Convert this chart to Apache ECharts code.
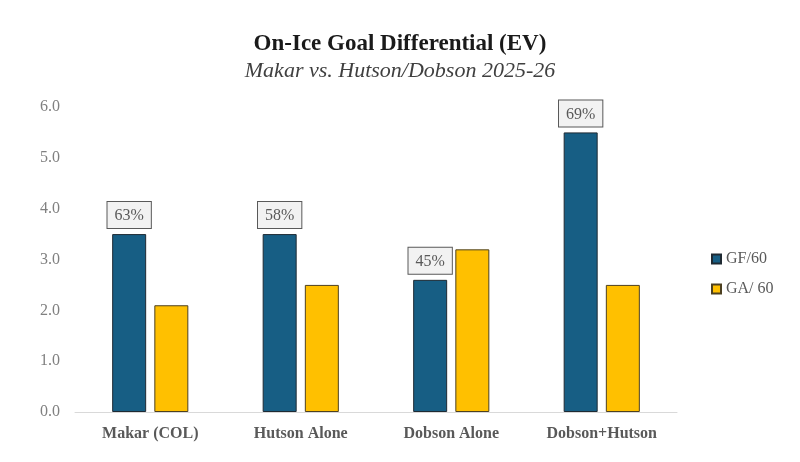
<!DOCTYPE html>
<html>
<head>
<meta charset="utf-8">
<script src="https://cdn.jsdelivr.net/npm/echarts@6/dist/echarts.min.js"></script>
<style>
  html, body { margin: 0; padding: 0; background: #fff; }
  #main { width: 800px; height: 462px; }
</style>
</head>
<body>
<div id="main"></div>
<script>
// 数据
var categories = ['Makar (COL)', 'Hutson Alone', 'Dobson Alone', 'Dobson+Hutson'];
var gf60 = [3.5, 3.5, 2.6, 5.5];
var ga60 = [2.1, 2.5, 3.2, 2.5];
var gfPct = ['63%', '58%', '45%', '69%'];
var yTicks = [0, 1, 2, 3, 4, 5, 6];

var serif = '"Liberation Serif", "DejaVu Serif", serif';

var myChart = echarts.init(document.getElementById('main'));

var option = {
    backgroundColor: '#ffffff',
    title: {
        text: 'On-Ice Goal Differential (EV)',
        subtext: 'Makar vs. Hutson/Dobson 2025-26',
        left: 'center',
        top: 28,
        itemGap: 4,
        textStyle: {
            fontFamily: serif,
            fontSize: 23,
            fontWeight: 'bold',
            color: '#1a1a1a'
        },
        subtextStyle: {
            fontFamily: serif,
            fontSize: 22,
            fontStyle: 'italic',
            color: '#404040'
        }
    },
    legend: {
        orient: 'vertical',
        left: 706,
        top: 246,
        itemWidth: 9,
        itemHeight: 9,
        itemGap: 14,
        icon: 'rect',
        textStyle: {
            fontFamily: serif,
            fontSize: 16,
            color: '#595959'
        },
        data: ['GF/60', 'GA/ 60']
    },
    grid: {
        left: 75,
        right: 123,
        top: 107,
        bottom: 50
    },
    xAxis: {
        type: 'category',
        data: categories,
        axisLine: { lineStyle: { color: '#d9d9d9', width: 1 } },
        axisTick: { show: false },
        axisLabel: {
            fontFamily: serif,
            fontSize: 16,
            fontWeight: 'bold',
            color: '#595959',
            margin: 14
        }
    },
    yAxis: {
        type: 'value',
        min: yTicks[0],
        max: yTicks[yTicks.length - 1],
        interval: 1,
        splitLine: { show: false },
        axisLine: { show: false },
        axisTick: { show: false },
        axisLabel: {
            fontFamily: serif,
            fontSize: 16,
            color: '#808080',
            margin: 15,
            formatter: function (v) { return v.toFixed(1); }
        }
    },
    series: [
        {
            name: 'GF/60',
            type: 'bar',
            data: gf60,
            barWidth: 34,
            barGap: '24%',
            itemStyle: {
                color: '#175e84',
                borderColor: '#1f2a33',
                borderWidth: 1
            },
            label: {
                show: true,
                position: 'top',
                distance: 6,
                formatter: function (p) { return gfPct[p.dataIndex]; },
                fontFamily: serif,
                fontSize: 16,
                color: '#595959',
                backgroundColor: '#f2f2f2',
                borderColor: '#595959',
                borderWidth: 1,
                padding: [6, 7, 4, 7]
            }
        },
        {
            name: 'GA/ 60',
            type: 'bar',
            data: ga60,
            barWidth: 34,
            itemStyle: {
                color: '#ffc000',
                borderColor: '#4d4020',
                borderWidth: 1
            }
        }
    ]
};

myChart.setOption(option);
</script>
</body>
</html>
